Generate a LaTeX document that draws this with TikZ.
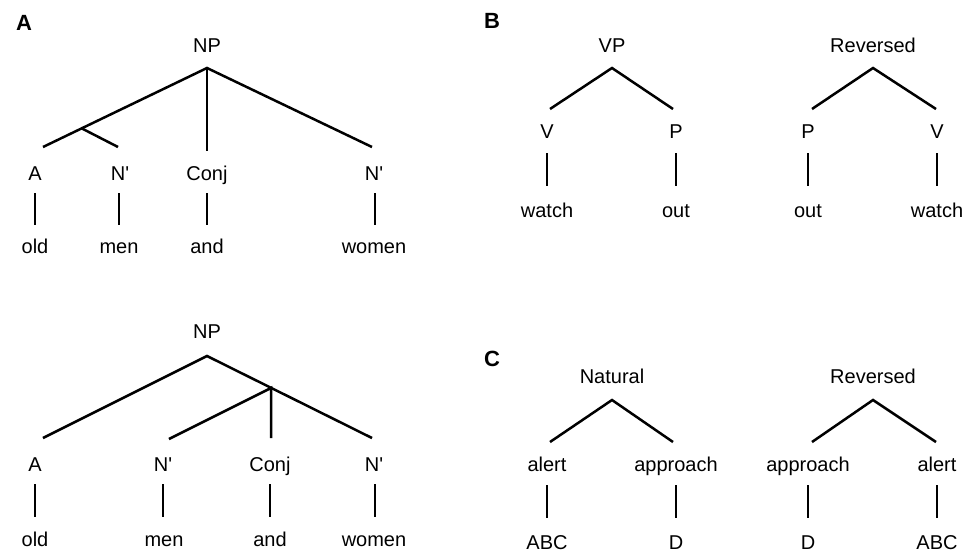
\documentclass[tikz,border=0pt]{standalone}
\usepackage{fontspec}
\setmainfont{Liberation Sans}
\newfontfamily\plainsans{Liberation Sans}
\begin{document}
\begin{tikzpicture}[x=1pt,y=-1pt,
  lbl/.style={anchor=base,inner sep=0pt,font=\plainsans\fontsize{20}{24}\selectfont},
  panel/.style={anchor=base,inner sep=0pt,font=\plainsans\fontsize{22}{26}\selectfont\bfseries},
  edge/.style={line width=2.5pt,line cap=butt}]
\useasboundingbox (0,0) rectangle (974,552);
% ---------- Panel A top ----------
\node[panel] (pA) at (24,30) {A};
\node[lbl] (np1) at (207,52) {NP};
\coordinate (np1a) at (207,68);
\coordinate (b1) at (81,128);
\coordinate (e1a) at (43,147);
\coordinate (e1n) at (118,147);
\coordinate (e1c) at (207,151);
\coordinate (e1w) at (372,147);
\node[lbl] (t1a) at (35,180) {A};
\node[lbl] (t1n) at (120,180) {N'};
\node[lbl] (t1c) at (207,180) {Conj};
\node[lbl] (t1w) at (374,180) {N'};
\foreach \n/\x in {a/35,n/119,c/207,w/375}{
  \coordinate (v1\n t) at (\x,193);
  \coordinate (v1\n b) at (\x,225);
}
\node[lbl] (w1a) at (35,253) {old};
\node[lbl] (w1n) at (119,253) {men};
\node[lbl] (w1c) at (207,253) {and};
\node[lbl] (w1w) at (374,253) {women};
\draw[edge] (e1a) -- (np1a) -- (e1w);
\draw[edge] (np1a) -- (e1c);
\draw[edge] (b1) -- (e1n);
\foreach \n in {a,n,c,w}{\draw[edge] (v1\n t) -- (v1\n b);}
% ---------- Panel A bottom ----------
\node[lbl] (np2) at (207,338) {NP};
\coordinate (np2a) at (207,356);
\coordinate (b2) at (271,388);
\coordinate (e2a) at (43,438);
\coordinate (e2n) at (169,439);
\coordinate (e2c) at (271,438);
\coordinate (e2w) at (372,438);
\node[lbl] (t2a) at (35,471) {A};
\node[lbl] (t2n) at (163,471) {N'};
\node[lbl] (t2c) at (270,471) {Conj};
\node[lbl] (t2w) at (374,471) {N'};
\foreach \n/\x in {a/35,n/163,c/270,w/375}{
  \coordinate (v2\n t) at (\x,484);
  \coordinate (v2\n b) at (\x,517);
}
\node[lbl] (w2a) at (35,546) {old};
\node[lbl] (w2n) at (164,546) {men};
\node[lbl] (w2c) at (270,546) {and};
\node[lbl] (w2w) at (374,546) {women};
\draw[edge] (e2a) -- (np2a) -- (e2w);
\draw[edge] (e2n) -- (b2) -- (e2c);
\foreach \n in {a,n,c,w}{\draw[edge] (v2\n t) -- (v2\n b);}
% ---------- Panel B ----------
\node[panel] (pB) at (492,28) {B};
\node[lbl] (vp) at (612,52) {VP};
\node[lbl] (revB) at (873,52) {Reversed};
\coordinate (vpa) at (612,68);
\coordinate (rba) at (873,68);
\coordinate (vpl) at (550,109);
\coordinate (vpr) at (673,109);
\coordinate (rbl) at (812,109);
\coordinate (rbr) at (936,109);
\draw[edge] (vpl) -- (vpa) -- (vpr);
\draw[edge] (rbl) -- (rba) -- (rbr);
\node[lbl] (bV1) at (547,138) {V};
\node[lbl] (bP1) at (676,138) {P};
\node[lbl] (bP2) at (808,138) {P};
\node[lbl] (bV2) at (937,138) {V};
\foreach \n/\x in {1/547,2/676,3/808,4/937}{
  \coordinate (vb\n t) at (\x,153);
  \coordinate (vb\n b) at (\x,186);
  \draw[edge] (vb\n t) -- (vb\n b);
}
\node[lbl] (bw1) at (547,217) {watch};
\node[lbl] (bw2) at (676,217) {out};
\node[lbl] (bw3) at (808,217) {out};
\node[lbl] (bw4) at (937,217) {watch};
% ---------- Panel C ----------
\node[panel] (pC) at (492,366) {C};
\node[lbl] (nat) at (612,383) {Natural};
\node[lbl] (revC) at (873,383) {Reversed};
\coordinate (nca) at (612,400);
\coordinate (rca) at (873,400);
\coordinate (ncl) at (550,442);
\coordinate (ncr) at (673,442);
\coordinate (rcl) at (812,442);
\coordinate (rcr) at (936,442);
\draw[edge] (ncl) -- (nca) -- (ncr);
\draw[edge] (rcl) -- (rca) -- (rcr);
\node[lbl] (c1) at (547,471) {alert};
\node[lbl] (c2) at (676,471) {approach};
\node[lbl] (c3) at (808,471) {approach};
\node[lbl] (c4) at (937,471) {alert};
\foreach \n/\x in {1/547,2/676,3/808,4/937}{
  \coordinate (vc\n t) at (\x,485);
  \coordinate (vc\n b) at (\x,518);
  \draw[edge] (vc\n t) -- (vc\n b);
}
\node[lbl] (cw1) at (547,549) {ABC};
\node[lbl] (cw2) at (676,549) {D};
\node[lbl] (cw3) at (808,549) {D};
\node[lbl] (cw4) at (937,549) {ABC};
\end{tikzpicture}
\end{document}
